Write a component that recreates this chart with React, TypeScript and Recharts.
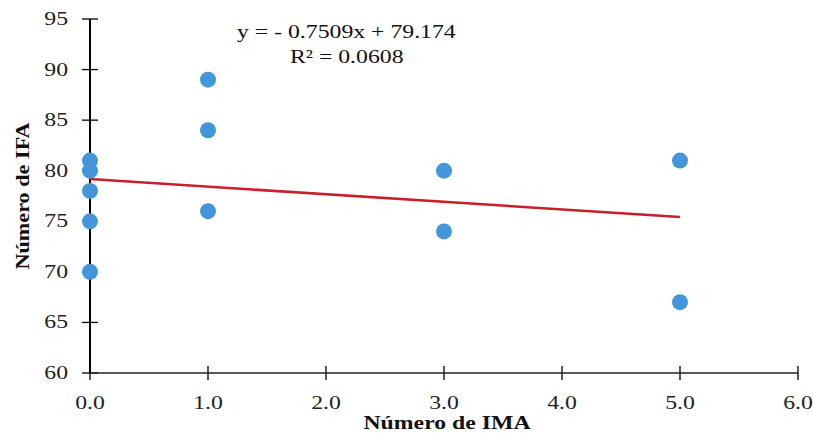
import React from "react"
import { ScatterChart, Scatter, XAxis, YAxis, ReferenceLine } from "recharts"

// observed points (Número de IMA vs Número de IFA)
const imaValues = [0, 0, 0, 0, 0, 1, 1, 1, 3, 3, 5, 5]
const ifaValues = [81, 80, 78, 75, 70, 89, 84, 76, 80, 74, 81, 67]

// linear trend line endpoints, y = -0.7509x + 79.174
const trendX = [0, 5]
const trendY = [79.174, 75.42]

const xTicks = [0, 1, 2, 3, 4, 5, 6]
const yTicks = [60, 65, 70, 75, 80, 85, 90, 95]

const equationText = "y = - 0.7509x  + 79.174"
const r2Text = "R² = 0.0608"

const points = imaValues.map((x, i) => ({ x, y: ifaValues[i] }))
const trend = trendX.map((x, i) => ({ x, y: trendY[i] }))

const FONT = "'Liberation Serif', 'Times New Roman', serif"
const SX = 1.25 // the original figure is stretched sideways

const YTick = (props: any) => {
  const { x, y, payload } = props
  return (
    <text
      transform={`translate(${x - 22},${y + 6}) scale(${SX},1)`}
      textAnchor="end"
      fontFamily={FONT}
      fontSize={19}
      fill="#222"
    >
      {payload.value}
    </text>
  )
}

const XTick = (props: any) => {
  const { x, y, payload } = props
  return (
    <text
      transform={`translate(${x},${y + 36}) scale(${SX},1)`}
      textAnchor="middle"
      fontFamily={FONT}
      fontSize={19}
      fill="#222"
    >
      {Number(payload.value).toFixed(1)}
    </text>
  )
}

const Dot = (props: any) => <circle cx={props.cx} cy={props.cy} r={8} fill="#4396d9" />

export default function App() {
  return (
    <div style={{ position: "absolute", left: 0, top: 0, width: 813, height: 436, background: "#fff" }}>
      <ScatterChart width={813} height={436} margin={{ top: 19, right: 15, left: 0, bottom: 0 }}>
        <XAxis
          type="number"
          dataKey="x"
          domain={[0, 6]}
          ticks={xTicks}
          tickSize={0}
          tickMargin={0}
          tickLine={false}
          tick={<XTick />}
          height={63}
          axisLine={{ stroke: "#222", strokeWidth: 1.5 }}
        />
        <YAxis
          type="number"
          dataKey="y"
          domain={[60, 95]}
          ticks={yTicks}
          tickSize={0}
          tickMargin={0}
          tickLine={false}
          tick={<YTick />}
          width={90}
          axisLine={false}
        />
        <ReferenceLine x={0} stroke="#000" strokeWidth={2} ifOverflow="visible" />
        {yTicks.map((v) => (
          <ReferenceLine
            key={`y${v}`}
            segment={[
              { x: -0.068, y: v },
              { x: 0.068, y: v },
            ]}
            stroke="#000"
            strokeWidth={1.3}
            ifOverflow="visible"
          />
        ))}
        {xTicks.map((v) => (
          <ReferenceLine
            key={`x${v}`}
            segment={[
              { x: v, y: 59.3 },
              { x: v, y: 60.7 },
            ]}
            stroke="#000"
            strokeWidth={1.3}
            ifOverflow="visible"
          />
        ))}
        <Scatter
          data={trend}
          line={{ stroke: "#c8202a", strokeWidth: 2.5 }}
          shape={() => null}
          isAnimationActive={false}
        />
        <Scatter data={points} shape={<Dot />} isAnimationActive={false} />
      </ScatterChart>
      <svg width={813} height={436} style={{ position: "absolute", left: 0, top: 0, pointerEvents: "none" }}>
        <text transform={`translate(237,38) scale(${SX},1)`} fontFamily={FONT} fontSize={19} fill="#111">
          {equationText}
        </text>
        <text transform={`translate(290,63) scale(${SX},1)`} fontFamily={FONT} fontSize={19} fill="#111">
          {r2Text}
        </text>
        <text
          transform={`translate(447,429) scale(${SX},1)`}
          textAnchor="middle"
          fontFamily={FONT}
          fontSize={19}
          fontWeight="bold"
          fill="#111"
        >
          Número de IMA
        </text>
        <text
          transform="translate(29,196) rotate(-90) scale(1.17,1)"
          textAnchor="middle"
          fontFamily={FONT}
          fontSize={19}
          fontWeight="bold"
          fill="#111"
        >
          Número de IFA
        </text>
      </svg>
    </div>
  )
}
